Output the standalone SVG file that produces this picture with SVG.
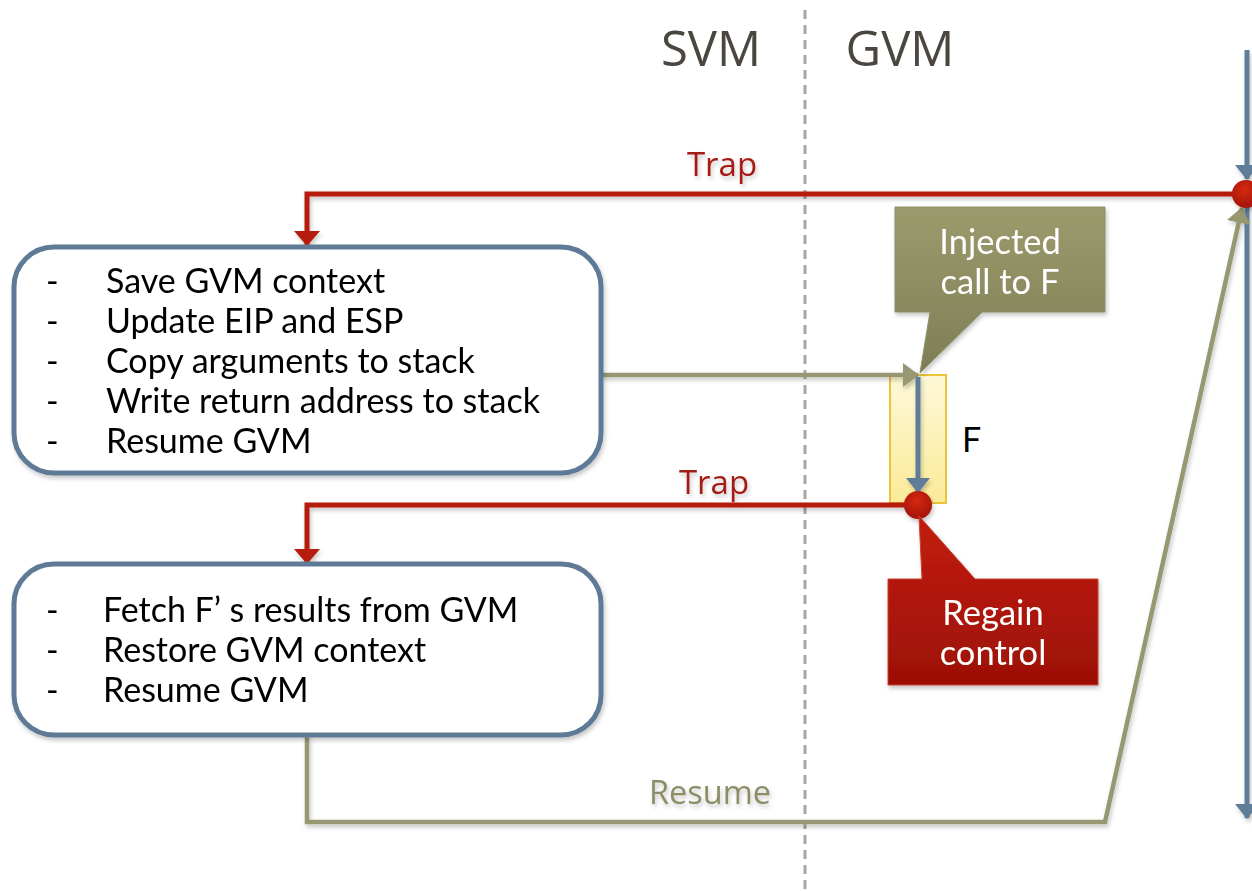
<svg xmlns="http://www.w3.org/2000/svg" width="1252" height="891" viewBox="0 0 1252 891">
  <style>
    .lane { font-family: "Open Sans", "Noto Sans", sans-serif; font-size: 49px; fill: #4b4640; }
    .body { font-family: Lato, "Liberation Sans", sans-serif; font-size: 34px; fill: #000; }
    .trap { font-family: "Open Sans", "Noto Sans", sans-serif; font-size: 33px; fill: #a51e16; }
    .resume { font-family: "Open Sans", "Noto Sans", sans-serif; font-size: 32.5px; fill: #8c8d66; }
    .callout { font-family: Lato, "Liberation Sans", sans-serif; font-size: 34.5px; fill: #ffffff; text-anchor: middle; }
    .box { fill: #ffffff; stroke: #5f7a97; stroke-width: 5; }
    .red { fill: none; stroke: #b51b08; stroke-width: 5; }
    .olive { fill: none; stroke: #979872; stroke-width: 4.5; }
    .blue { fill: none; stroke: #5f7c99; stroke-width: 5; }
  </style>
  <defs>
    <filter id="shadow" x="-10%" y="-10%" width="130%" height="140%">
      <feDropShadow dx="1.5" dy="3" stdDeviation="2" flood-color="#000" flood-opacity="0.22"/>
    </filter>
    <marker id="arrow-red" markerUnits="userSpaceOnUse" markerWidth="15" markerHeight="26" refX="14" refY="13" orient="auto">
      <path d="M0,0 L15,13 L0,26 z" fill="#b51b08"/>
    </marker>
    <marker id="arrow-blue" markerUnits="userSpaceOnUse" markerWidth="15" markerHeight="24" refX="14" refY="12" orient="auto">
      <path d="M0,0 L15,12 L0,24 z" fill="#5f7c99"/>
    </marker>
    <marker id="arrow-olive" markerUnits="userSpaceOnUse" markerWidth="16" markerHeight="24" refX="15" refY="12" orient="auto">
      <path d="M0,0 L16,12 L0,24 z" fill="#979872"/>
    </marker>
    <linearGradient id="grad-f" x1="0" y1="0" x2="0" y2="1">
      <stop offset="0" stop-color="#fef8d8"/>
      <stop offset="1" stop-color="#fbeb98"/>
    </linearGradient>
    <linearGradient id="grad-olive" x1="0" y1="0" x2="0" y2="1">
      <stop offset="0" stop-color="#9c9b6d"/>
      <stop offset="1" stop-color="#7e7e56"/>
    </linearGradient>
    <linearGradient id="grad-red" x1="0" y1="0" x2="0" y2="1">
      <stop offset="0" stop-color="#c21d0a"/>
      <stop offset="1" stop-color="#9c1006"/>
    </linearGradient>
    <radialGradient id="grad-dot" cx="0.45" cy="0.35" r="0.65">
      <stop offset="0" stop-color="#d42a12"/>
      <stop offset="1" stop-color="#a51307"/>
    </radialGradient>
  </defs>

  <rect width="1252" height="891" fill="#ffffff"/>

  <!-- lane divider and lane titles -->
  <g id="lanes">
    <line x1="805" y1="10" x2="805" y2="891" stroke="#aaa5a0" stroke-width="3" stroke-dasharray="9,6"/>
    <text class="lane" x="711" y="66" text-anchor="middle">SVM</text>
    <text class="lane" x="900" y="66" text-anchor="middle">GVM</text>
  </g>

  <!-- function F body -->
  <g id="node-f">
    <rect x="890" y="375" width="56" height="128" fill="url(#grad-f)" stroke="#e9c43c" stroke-width="2"/>
    <text class="body" x="962" y="452" font-size="32">F</text>
  </g>

  <!-- connectors -->
  <g id="connectors" filter="url(#shadow)">
    <path class="blue" d="M1247,50 V179" marker-end="url(#arrow-blue)"/>
    <path class="blue" d="M1247,194 V818" marker-end="url(#arrow-blue)"/>
    <path class="red" d="M1244,194 H307 V245" marker-end="url(#arrow-red)"/>
    <path class="red" d="M918,505 H307 V563" marker-end="url(#arrow-red)"/>
    <path class="olive" d="M601,375 H918" marker-end="url(#arrow-olive)"/>
    <path class="blue" d="M918,377 V492" marker-end="url(#arrow-blue)"/>
    <path class="olive" d="M307,735 V822 H1105 L1242,208" marker-end="url(#arrow-olive)"/>
    <text class="trap" x="722" y="176" text-anchor="middle">Trap</text>
    <text class="trap" x="714" y="494" text-anchor="middle">Trap</text>
    <text class="resume" x="710" y="804" text-anchor="middle">Resume</text>
  </g>

  <!-- trap points -->
  <g id="trap-points" filter="url(#shadow)">
    <circle cx="1246" cy="194" r="14" fill="url(#grad-dot)"/>
    <circle cx="918" cy="505" r="14" fill="url(#grad-dot)"/>
  </g>

  <!-- SVM handler: set up the call -->
  <g id="node-setup" filter="url(#shadow)">
    <rect class="box" x="14" y="247" width="587" height="226" rx="40" ry="40"/>
    <g class="body">
      <text x="46" y="293">-</text><text x="106" y="293">Save GVM context</text>
      <text x="46" y="333">-</text><text x="106" y="333">Update EIP and ESP</text>
      <text x="46" y="373">-</text><text x="106" y="373">Copy arguments to stack</text>
      <text x="46" y="413">-</text><text x="106" y="413">Write return address to stack</text>
      <text x="46" y="453">-</text><text x="106" y="453">Resume GVM</text>
    </g>
  </g>

  <!-- SVM handler: collect the results -->
  <g id="node-collect" filter="url(#shadow)">
    <rect class="box" x="14" y="564" width="587" height="171" rx="40" ry="40"/>
    <g class="body">
      <text x="46" y="622">-</text><text x="103" y="622">Fetch F’ s results from GVM</text>
      <text x="46" y="662">-</text><text x="103" y="662">Restore GVM context</text>
      <text x="46" y="702">-</text><text x="103" y="702">Resume GVM</text>
    </g>
  </g>

  <!-- callout: injected call -->
  <g id="callout-injected" filter="url(#shadow)">
    <path d="M895,207 H1105 V312 H982 L920,373 L930,312 H895 Z" fill="url(#grad-olive)" stroke="#8e8e66" stroke-width="1"/>
    <text class="callout" x="1000" y="254">Injected</text>
    <text class="callout" x="1000" y="294">call to F</text>
  </g>

  <!-- callout: regain control -->
  <g id="callout-regain" filter="url(#shadow)">
    <path d="M888,579 H922 L919,516 L975,579 H1098 V685 H888 Z" fill="url(#grad-red)" stroke="#c8402e" stroke-width="1"/>
    <text class="callout" x="993" y="625">Regain</text>
    <text class="callout" x="993" y="665">control</text>
  </g>
</svg>
